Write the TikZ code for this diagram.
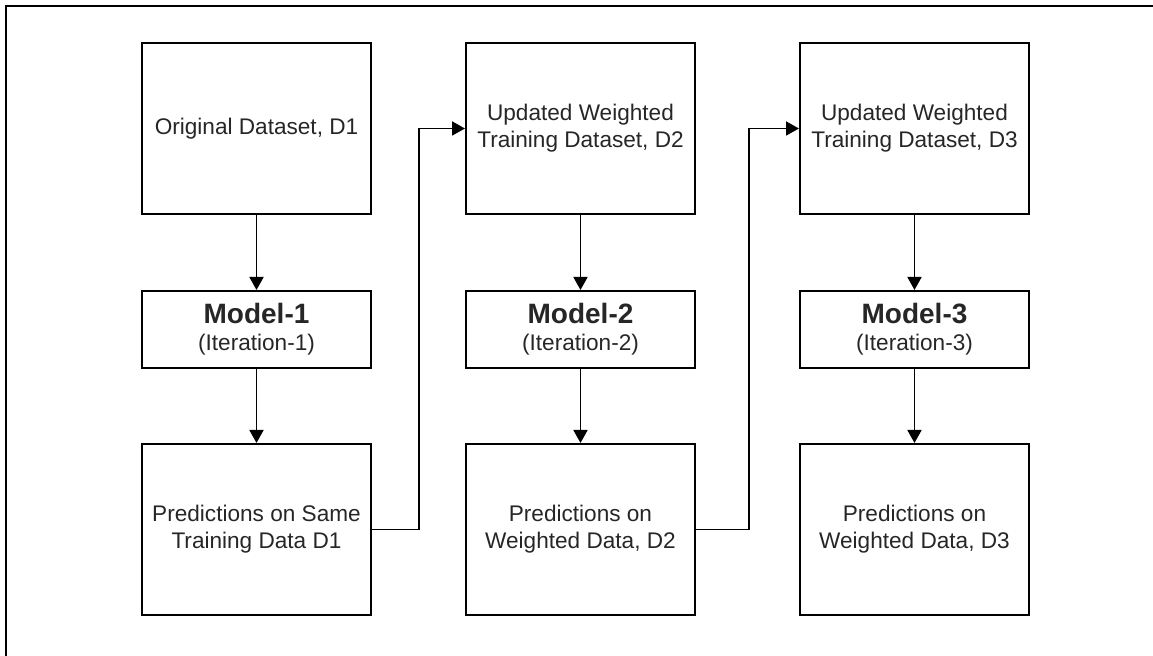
\documentclass[tikz,border=0pt]{standalone}
\usepackage{fontspec}
\setmainfont{Liberation Sans}
\usetikzlibrary{arrows.meta}

\tikzset{
  databox/.style={draw, line width=1pt, minimum width=114.5pt, minimum height=85.5pt,
    align=center, inner sep=1pt, text=black!85, font=\fontsize{11.3}{13.6}\selectfont},
  modelbox/.style={databox, minimum height=38.5pt},
  arr/.style={line width=0.9pt, -{Triangle[length=6.5pt,width=7pt]}}
}

\begin{document}
\begin{tikzpicture}[x=0.5pt,y=-0.5pt]
        \useasboundingbox (0,0) rectangle (1153,656);
        % frame
        \draw[line width=1pt] (6,656) -- (6,6) -- (1153,6);

        % datasets
        \node[databox] (d1) at (256.5,128.5) {Original Dataset, D1};
        \node[databox] (d2) at (580.5,128.5) {Updated Weighted\\Training Dataset, D2};
        \node[databox] (d3) at (914.5,128.5) {Updated Weighted\\Training Dataset, D3};

        % models
        \node[modelbox] (m1) at (256.5,329.5) {{\fontsize{14}{16}\selectfont\bfseries Model-1}\\(Iteration-1)};
        \node[modelbox] (m2) at (580.5,329.5) {{\fontsize{14}{16}\selectfont\bfseries Model-2}\\(Iteration-2)};
        \node[modelbox] (m3) at (914.5,329.5) {{\fontsize{14}{16}\selectfont\bfseries Model-3}\\(Iteration-3)};

        % predictions
        \node[databox] (p1) at (256.5,529.5) {Predictions on Same\\Training Data D1};
        \node[databox] (p2) at (580.5,529.5) {Predictions on\\Weighted Data, D2};
        \node[databox] (p3) at (914.5,529.5) {Predictions on\\Weighted Data, D3};

        % arrows
        \foreach \i in {1,2,3} {
            \draw[arr] (d\i) -- (m\i);
            \draw[arr] (m\i) -- (p\i);
        }
        \draw[arr] (p1.east) -- ++(47,0) |- (d2.west);
        \draw[arr] (p2.east) -- ++(53,0) |- (d3.west);
    \end{tikzpicture}
\end{document}
